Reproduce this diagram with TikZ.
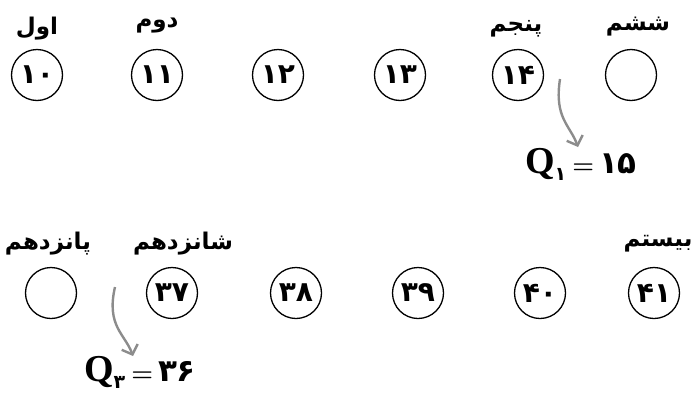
\documentclass[tikz,border=0pt]{standalone}
\usepackage{fontspec}
\usetikzlibrary{arrows.meta}
\TeXXeTstate=1
\newfontfamily\fafont[Script=Arabic]{DejaVu Sans}
\newfontfamily\qfont{Liberation Serif}
\colorlet{arrowgray}{black!45}
\newcommand{\fa}[1]{{\fafont\bfseries\beginR #1\endR}}
\newcommand{\fanum}[1]{{\fafont\bfseries #1}}
\newcommand{\qsub}[2]{{\fontsize{38}{38}\selectfont\qfont\bfseries Q}\raisebox{-7pt}{\fontsize{19}{19}\selectfont\fanum{#1}}\hspace{6pt}{\boldmath$=$}\hspace{5pt}\fanum{#2}}

\tikzset{
  rank/.style={circle,draw,line width=1.3pt,minimum size=51pt,inner sep=0pt,font=\fontsize{28}{28}\selectfont},
  ordinal/.style={font=\fontsize{23}{26}\selectfont},
  qarrow/.style={draw=arrowgray,line width=2.4pt,-{Straight Barb[length=8pt,width=17pt]}},
  qlabel/.style={font=\fontsize{31}{34}\selectfont}
}

\begin{document}
\begin{tikzpicture}[x=1pt,y=-1pt]
      \useasboundingbox (0,0) rectangle (698,394);

      % top row
      \node[rank] (c10) at (37,75) {\fanum{۱۰}};
      \node[rank] (c11) at (157,75) {\fanum{۱۱}};
      \node[rank] (c12) at (278,75) {\fanum{۱۲}};
      \node[rank] (c13) at (400,75) {\fanum{۱۳}};
      \node[rank] (c14) at (518,75) {\fanum{۱۴}};
      \node[rank] (c15) at (631,75) {};

      \node[ordinal] (first) at (37,29) {\fa{اول}};
      \node[ordinal] (second) at (157,26) {\fa{دوم}};
      \node[ordinal] (fifth) at (516,29) {\fa{پنجم}};
      \node[ordinal] (sixth) at (638,27) {\fa{ششم}};

      \node[qlabel] (q1) at (581,164) {\qsub{۱}{۱۵}};
      \coordinate (a1) at (560,79);
      \coordinate (b1) at (578,147);
      \draw[qarrow] (a1) .. controls (554,118) and (570,125) .. (b1);

      % bottom row
      \node[rank] (c36) at (51,293) {};
      \node[rank] (c37) at (172,293) {\fanum{۳۷}};
      \node[rank] (c38) at (296,293) {\fanum{۳۸}};
      \node[rank] (c39) at (418,293) {\fanum{۳۹}};
      \node[rank] (c40) at (540,293) {\fanum{۴۰}};
      \node[rank] (c41) at (654,293) {\fanum{۴۱}};

      \node[ordinal] (fifteenth) at (48,244) {\fa{پانزدهم}};
      \node[ordinal] (sixteenth) at (183,244) {\fa{شانزدهم}};
      \node[ordinal] (twentieth) at (658,244) {\fa{بیستم}};

      \node[qlabel] (q3) at (140,372) {\qsub{۳}{۳۶}};
      \coordinate (a2) at (115,287);
      \coordinate (b2) at (133,356);
      \draw[qarrow] (a2) .. controls (106,326) and (125,334) .. (b2);

\end{tikzpicture}
\end{document}
